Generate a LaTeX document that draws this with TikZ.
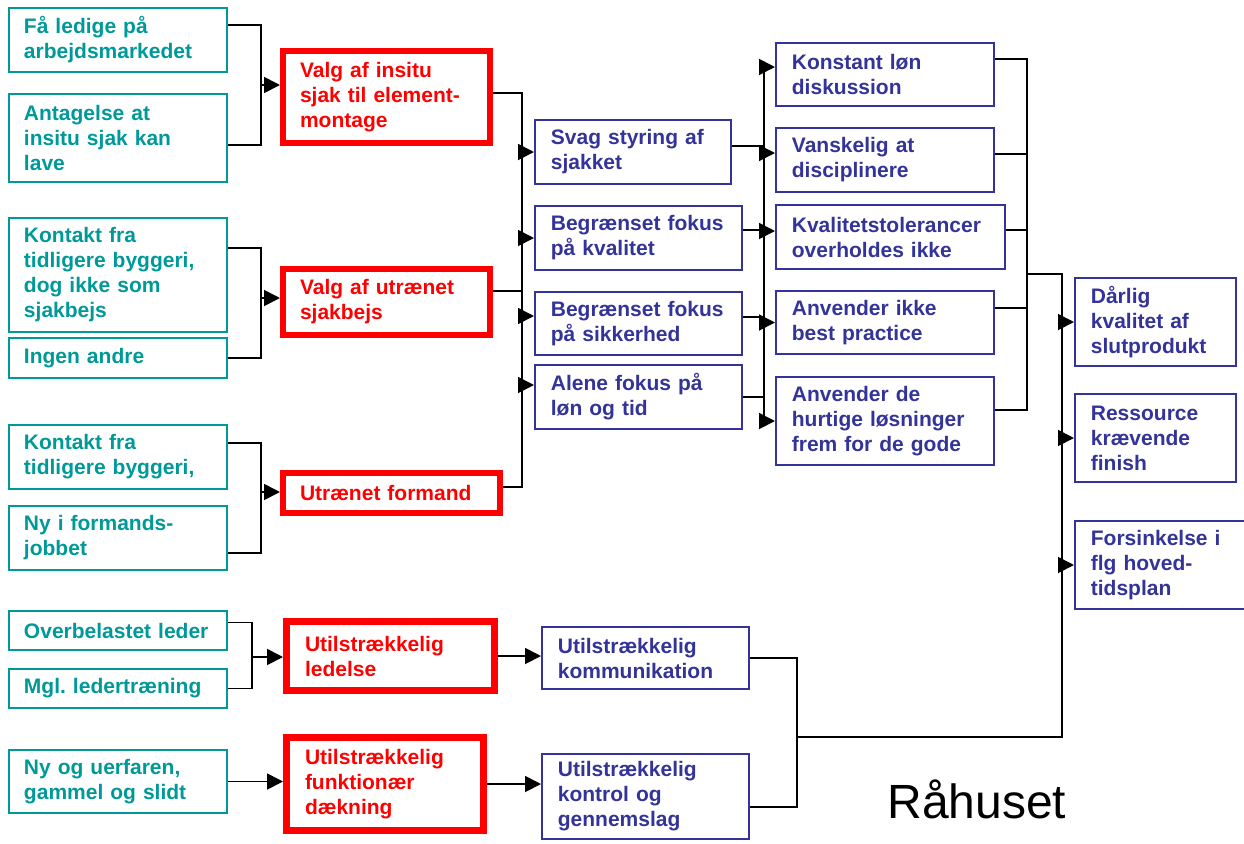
\documentclass[tikz,border=0pt]{standalone}
\usepackage{fontspec}
\setmainfont{Liberation Sans}
\usetikzlibrary{arrows.meta}
\definecolor{causeteal}{RGB}{0,153,153}
\definecolor{effectblue}{RGB}{51,51,153}
\definecolor{rootred}{RGB}{255,0,0}
\frenchspacing

\begin{document}
\begin{tikzpicture}[x=0.5pt, y=-0.5pt,
    box/.style={anchor=north west, align=left, inner ysep=2pt,
        font=\bfseries\fontsize{10.5}{12.5}\selectfont},
    cause/.style={box, draw=causeteal, text=causeteal, line width=0.8pt, inner xsep=7.6pt, text width=94pt},
    root/.style={box, draw=rootred, text=rootred, line width=2.8pt, inner xsep=8.6pt},
    rootthick/.style={root, line width=3.5pt, inner xsep=9.25pt},
    effect/.style={box, draw=effectblue, text=effectblue, line width=0.9pt, inner xsep=8pt},
    wire/.style={line width=0.9pt},
    arr/.style={wire, -{Triangle[length=8pt, width=8pt]}}]
    \useasboundingbox (0,0) rectangle (1244,843);

    \node[cause, minimum height=32.2pt] (fa) at (8,7) {Få ledige på\\arbejdsmarkedet};
    \node[cause, minimum height=44.2pt] (ant) at (8,93) {Antagelse at\\insitu sjak kan\\lave};
    \node[cause, minimum height=57.2pt] (kon1) at (8,217) {Kontakt fra\\tidligere byggeri,\\dog ikke som\\sjakbejs};
    \node[cause, minimum height=20.2pt] (ingen) at (8,337) {Ingen andre};
    \node[cause, minimum height=32.2pt] (kon2) at (8,424) {Kontakt fra\\tidligere byggeri,};
    \node[cause, minimum height=32.2pt] (ny) at (8,505) {Ny i formands-\\jobbet};
    \node[cause, minimum height=19.7pt] (over) at (8,610) {Overbelastet leder};
    \node[cause, minimum height=19.7pt] (mgl) at (8,668) {Mgl. ledertræning};
    \node[cause, minimum height=31.7pt] (uerf) at (8,749) {Ny og uerfaren,\\gammel og slidt};

    \node[root, text width=86.5pt, minimum height=46.2pt] (valg1) at (280,48) {Valg af insitu\\sjak til element-\\montage};
    \node[root, text width=86.5pt, minimum height=33.2pt] (valg2) at (280,266) {Valg af utrænet\\sjakbejs};
    \node[root, text width=91.5pt, minimum height=20.2pt] (form) at (280,470) {Utrænet formand};
    \node[rootthick, text width=85.5pt, minimum height=34.5pt] (led) at (283,618) {Utilstrækkelig\\ledelse};
    \node[rootthick, text width=80pt, minimum height=46.5pt] (fkt) at (283,734) {Utilstrækkelig\\funktionær\\dækning};

    \node[effect, text width=82.1pt, minimum height=32.1pt] (svag) at (534,119) {Svag styring af\\sjakket};
    \node[effect, text width=87.6pt, minimum height=32.1pt] (bkval) at (534,205) {Begrænset fokus\\på kvalitet};
    \node[effect, text width=87.6pt, minimum height=31.6pt] (bsik) at (534,291) {Begrænset fokus\\på sikkerhed};
    \node[effect, text width=87.6pt, minimum height=32.1pt] (alene) at (534,364) {Alene fokus på\\løn og tid};

    \node[effect, text width=93.1pt, minimum height=31.6pt] (konst) at (775,42) {Konstant løn\\diskussion};
    \node[effect, text width=93.1pt, minimum height=32.1pt] (vansk) at (775,127) {Vanskelig at\\disciplinere};
    \node[effect, text width=98.6pt, minimum height=32.1pt] (kvtol) at (775,204) {Kvalitetstolerancer\\overholdes ikke};
    \node[effect, text width=93.1pt, minimum height=31.6pt] (anv1) at (775,290) {Anvender ikke\\best practice};
    \node[effect, text width=93.1pt, minimum height=44.1pt] (anv2) at (775,376) {Anvender de\\hurtige løsninger\\frem for de gode};

    \node[effect, text width=64.6pt, minimum height=44.1pt] (darl) at (1074,277) {Dårlig\\kvalitet af\\slutprodukt};
    \node[effect, text width=64.6pt, minimum height=44.1pt] (ress) at (1074,393) {Ressource\\krævende\\finish};
    \node[effect, text width=70.1pt, minimum height=44.1pt] (fors) at (1074,520) {Forsinkelse i\\flg hoved-\\tidsplan};

    \node[effect, text width=87.6pt, minimum height=31.1pt] (komm) at (541,626) {Utilstrækkelig\\kommunikation};
    \node[effect, text width=87.6pt, minimum height=42.6pt] (kontr) at (541,753) {Utilstrækkelig\\kontrol og\\gennemslag};

    \node[anchor=base west, inner sep=0pt, font=\fontsize{24}{28}\selectfont] (title) at (887,818) {Råhuset};

    \coordinate (jA) at (261,85);
    \coordinate (jB) at (261,298);
    \coordinate (jC) at (261,492);
    \coordinate (jD) at (252,657);
    \draw[wire] ([yshift=7.5pt]fa.east) -| (jA) |- ([yshift=-3.5pt]ant.east);
    \draw[wire] ([yshift=13.5pt]kon1.east) -| (jB) |- (ingen.east);
    \draw[wire] ([yshift=7pt]kon2.east) -| (jC) |- ([yshift=-7.5pt]ny.east);
    \draw[wire] ([yshift=4pt]over.east) -| (jD) |- (mgl.east);
    \draw[arr] (jA) -- (valg1.west |- jA);
    \draw[arr] (jB) -- (valg2.west |- jB);
    \draw[arr] (jC) -- (form.west |- jC);
    \draw[arr] (jD) -- (led.west |- jD);
    \draw[arr] (uerf.east) -- (fkt.west |- uerf.east);

    \coordinate (busF) at (522,0);
    \coordinate (valg1-out) at ([yshift=2pt]valg1.east);
    \coordinate (valg2-out) at ([yshift=5.5pt]valg2.east);
    \coordinate (form-out) at ([yshift=3pt]form.east);
    \coordinate (bsik-in) at ([yshift=3.75pt]bsik.west);
    \coordinate (alene-in) at ([yshift=6pt]alene.west);
    \draw[wire] (valg1-out) -| (busF |- form-out) -- (form-out);
    \draw[wire] (valg2-out) -- (busF |- valg2-out);
    \draw[arr] (busF |- svag.west) -- (svag.west);
    \draw[arr] (busF |- bkval.west) -- (bkval.west);
    \draw[arr] (busF |- bsik-in) -- (bsik-in);
    \draw[arr] (busF |- alene-in) -- (alene-in);

    \coordinate (busG) at (764,0);
    \coordinate (svag-out) at ([yshift=3pt]svag.east);
    \coordinate (bkval-out) at ([yshift=4pt]bkval.east);
    \coordinate (bsik-out) at ([yshift=3.25pt]bsik.east);
    \coordinate (konst-in) at ([yshift=3.75pt]konst.west);
    \coordinate (vansk-in) at ([yshift=3.5pt]vansk.west);
    \coordinate (kvtol-in) at ([yshift=3pt]kvtol.west);
    \draw[wire] (busG |- konst-in) -- (busG |- anv2.west);
    \draw[wire] (svag-out) -- (busG |- svag-out);
    \draw[wire] (bkval-out) -- (busG |- bkval-out);
    \draw[wire] (bsik-out) -- (busG |- bsik-out);
    \draw[wire] (alene.east) -- (busG |- alene.east);
    \draw[arr] (busG |- konst-in) -- (konst-in);
    \draw[arr] (busG |- vansk-in) -- (vansk-in);
    \draw[arr] (busG |- kvtol-in) -- (kvtol-in);
    \draw[arr] (busG |- anv1.west) -- (anv1.west);
    \draw[arr] (busG |- anv2.west) -- (anv2.west);

    \coordinate (busH) at (1027,0);
    \coordinate (konst-out) at ([yshift=7.75pt]konst.east);
    \coordinate (vansk-out) at ([yshift=3pt]vansk.east);
    \coordinate (kvtol-out) at ([yshift=3.5pt]kvtol.east);
    \coordinate (anv1-out) at ([yshift=7.25pt]anv1.east);
    \coordinate (anv2-out) at ([yshift=5.5pt]anv2.east);
    \draw[wire] (konst-out) -| (busH |- anv2-out) -- (anv2-out);
    \draw[wire] (vansk-out) -- (busH |- vansk-out);
    \draw[wire] (kvtol-out) -- (busH |- kvtol-out);
    \draw[wire] (anv1-out) -- (busH |- anv1-out);

    \coordinate (jH) at (1027,274);
    \coordinate (jK) at (1062,737);
    \coordinate (jJ) at (797,737);
    \coordinate (kontr-out) at ([yshift=-5.25pt]kontr.east);
    \draw[wire] (jH) -| (jK) -- (jJ);
    \draw[arr] (jK |- darl.west) -- (darl.west);
    \draw[arr] (jK |- ress.west) -- (ress.west);
    \draw[arr] (jK |- fors.west) -- (fors.west);
    \draw[wire] (komm.east) -| (jJ) |- (kontr-out);
    \draw[arr] (led.east) -- (komm.west |- led.east);
    \draw[arr] (fkt.east) -- (kontr.west |- fkt.east);
\end{tikzpicture}
\end{document}
